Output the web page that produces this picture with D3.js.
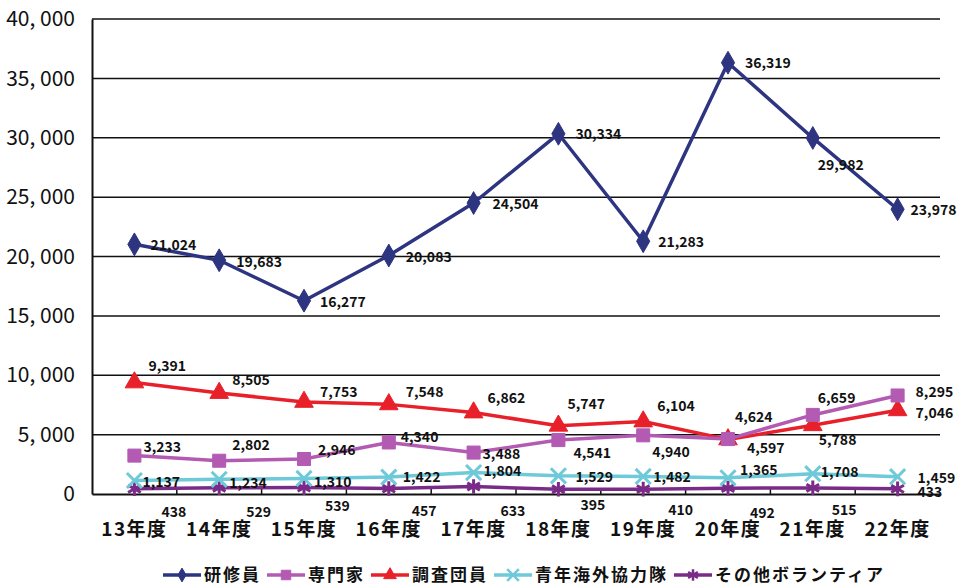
<!DOCTYPE html>
<html>
<head>
<meta charset="utf-8">
<script src="https://cdn.jsdelivr.net/npm/d3@7"></script>
<style>
  body { margin: 0; background: #fff; }
  svg { display: block; }
  text { font-family: "Noto Sans CJK JP", "Noto Sans", sans-serif; fill: #111; }
</style>
</head>
<body>
<svg id="chart" width="962" height="587"></svg>
<script>
// categories (fiscal years)
var categories = ["13年度", "14年度", "15年度", "16年度", "17年度", "18年度", "19年度", "20年度", "21年度", "22年度"];

// series values
var kenshuin = [21024, 19683, 16277, 20083, 24504, 30334, 21283, 36319, 29982, 23978];
var senmonka = [3233, 2802, 2946, 4340, 3488, 4541, 4940, 4624, 6659, 8295];
var chosadan = [9391, 8505, 7753, 7548, 6862, 5747, 6104, 4597, 5788, 7046];
var kyoryokutai = [1137, 1234, 1310, 1422, 1804, 1529, 1482, 1365, 1708, 1459];
var sonota = [438, 529, 539, 457, 633, 395, 410, 492, 515, 433];

var seriesNames = ["研修員", "専門家", "調査団員", "青年海外協力隊", "その他ボランティア"];

// y tick values
var yTickValues = [0, 5000, 10000, 15000, 20000, 25000, 30000, 35000, 40000];

// label offsets (dx, dy) from each point, as placed in the original
var offKenshuin = [[16,1],[17,2],[16,1],[17,2],[19,1],[17,0],[15,1],[17,0],[5,27],[13,1]];
var offSenmonka = [[9,-9],[13,-16],[14,-9],[12,-5],[9,2],[15,13],[9,17],[7,-22],[5,-17],[18,-3]];
var offChosadan = [[14,-16],[13,-13],[16,-10],[17,-12],[14,-14],[9,-22],[14,-15],[19,9],[6,15],[18,3]];
var offKyoryoku = [[8,2],[10,4],[10,4],[14,0],[10,-1],[17,1],[10,1],[12,-8],[8,-2],[20,1]];
var offSonota = [[27,23],[27,24],[21,19],[23,23],[27,25],[22,16],[25,21],[22,25],[19,22],[20,3]];

var svg = d3.select("#chart"),
    margin = {top: 19, right: 22, bottom: 93, left: 92},
    width = +svg.attr("width") - margin.left - margin.right,
    height = +svg.attr("height") - margin.top - margin.bottom,
    g = svg.append("g").attr("transform", "translate(" + margin.left + "," + margin.top + ")");

var x = d3.scaleBand()
    .domain(categories)
    .range([0, width])
    .padding(0);

var y = d3.scaleLinear()
    .domain([0, 40000])
    .range([height, 0]);

function cx(i) { return x(categories[i]) + x.bandwidth() / 2; }

var series = [
  {name: seriesNames[0], values: kenshuin, color: "#2d3480", symbol: d3.symbolDiamond, size: 150, fill: true, off: offKenshuin, lsize: 55},
  {name: seriesNames[1], values: senmonka, color: "#b35bb3", symbol: d3.symbolSquare, size: 170, fill: true, off: offSenmonka, lsize: 90},
  {name: seriesNames[2], values: chosadan, color: "#e8202a", symbol: d3.symbolTriangle, size: 150, fill: true, off: offChosadan, lsize: 70},
  {name: seriesNames[3], values: kyoryokutai, color: "#6ec9d9", symbol: d3.symbolTimes, size: 150, fill: false, off: offKyoryoku, lsize: 90},
  {name: seriesNames[4], values: sonota, color: "#7a2b88", symbol: d3.symbolAsterisk, size: 150, fill: false, off: offSonota, lsize: 90}
];

// gridlines
g.append("g")
    .attr("class", "grid")
  .selectAll("line")
  .data(yTickValues.filter(function(d) { return d > 0; }))
  .enter().append("line")
    .attr("x1", 0)
    .attr("x2", width)
    .attr("y1", function(d) { return y(d); })
    .attr("y2", function(d) { return y(d); })
    .attr("stroke", "#111")
    .attr("stroke-width", 1.5);

// y axis
var yAxis = g.append("g")
    .attr("class", "axis axis--y")
    .call(d3.axisLeft(y)
      .tickValues(yTickValues)
      .tickSize(0)
      .tickPadding(17)
      .tickFormat(function(d) { return d3.format(",")(d).replace(",", ", "); }));
yAxis.select(".domain").attr("stroke", "#111").attr("stroke-width", 2);
yAxis.selectAll("text")
    .style("font-size", "21px")
    .style("font-family", "'Noto Sans CJK JP', sans-serif")
    .attr("fill", "#111");

// x axis
var xAxis = g.append("g")
    .attr("class", "axis axis--x")
    .attr("transform", "translate(0," + height + ")")
    .call(d3.axisBottom(x).tickSize(0).tickPadding(29));
xAxis.select(".domain").attr("stroke", "#111").attr("stroke-width", 2);
xAxis.selectAll("text")
    .style("font-size", "19px")
    .style("font-weight", "bold")
    .style("letter-spacing", "1.5px")
    .style("font-family", "'Noto Sans CJK JP', sans-serif")
    .attr("fill", "#111");

// inside tick marks at category boundaries
g.append("g")
  .selectAll("line")
  .data(categories.slice(1))
  .enter().append("line")
    .attr("x1", function(d) { return x(d); })
    .attr("x2", function(d) { return x(d); })
    .attr("y1", height - 6)
    .attr("y2", height)
    .attr("stroke", "#111")
    .attr("stroke-width", 1.5);

var line = d3.line()
    .x(function(d, i) { return cx(i); })
    .y(function(d) { return y(d); });

// draw series bottom-up so 研修員 sits on top
series.slice().reverse().forEach(function(s) {
  var sg = g.append("g").attr("class", "series");
  sg.append("path")
      .datum(s.values)
      .attr("fill", "none")
      .attr("stroke", s.color)
      .attr("stroke-width", 3.5)
      .attr("stroke-linejoin", "round")
      .attr("d", line);
  sg.selectAll("path.mark")
    .data(s.values)
    .enter().append("path")
      .attr("class", "mark")
      .attr("transform", function(d, i) { return "translate(" + cx(i) + "," + y(d) + ")"; })
      .attr("d", d3.symbol().type(s.symbol).size(s.size))
      .attr("fill", s.fill ? s.color : "none")
      .attr("stroke", s.color)
      .attr("stroke-width", s.fill ? 1 : 3);
});

// data labels
series.forEach(function(s) {
  g.append("g").attr("class", "labels")
    .selectAll("text")
    .data(s.values)
    .enter().append("text")
      .attr("x", function(d, i) { return cx(i) + s.off[i][0]; })
      .attr("y", function(d, i) { return y(d) + s.off[i][1]; })
      .attr("dy", "0.35em")
      .style("font-size", "14px")
      .style("font-weight", "bold")
      .text(function(d) { return d3.format(",")(d); });
});

// legend
var legend = svg.append("g").attr("class", "legend").attr("transform", "translate(163,575)");
var lx = 0;
series.forEach(function(s) {
  var item = legend.append("g").attr("transform", "translate(" + lx + ",0)");
  item.append("line")
      .attr("x1", 0).attr("x2", 38)
      .attr("stroke", s.color)
      .attr("stroke-width", 3.5);
  item.append("path")
      .attr("transform", "translate(19,0)")
      .attr("d", d3.symbol().type(s.symbol).size(s.lsize))
      .attr("fill", s.fill ? s.color : "none")
      .attr("stroke", s.color)
      .attr("stroke-width", s.fill ? 1 : 2.5);
  var t = item.append("text")
      .attr("x", 41)
      .attr("dy", "0.35em")
      .style("font-size", "17px")
      .style("font-weight", "bold")
      .style("letter-spacing", "2px")
      .text(s.name);
  lx += 41 + t.node().getComputedTextLength() + 6;
});
</script>
</body>
</html>
